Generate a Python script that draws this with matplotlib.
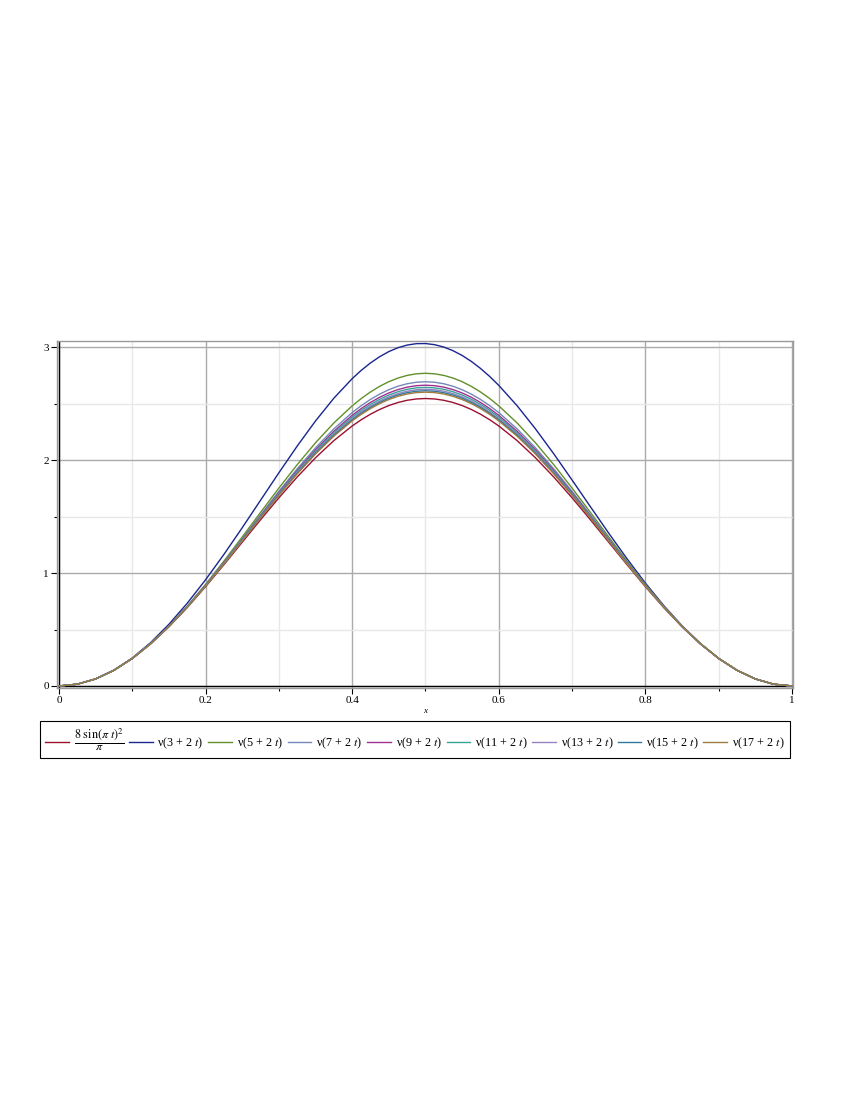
import matplotlib
matplotlib.use("Agg")
import matplotlib.pyplot as plt
from matplotlib.ticker import MultipleLocator

# sample points (x) and curve values (denser near the peak)
t = [0, 0.025, 0.05, 0.075, 0.1, 0.125, 0.15, 0.175, 0.2, 0.225, 0.25, 0.275, 0.3, 0.325, 0.35,
     0.375, 0.4, 0.4125, 0.425, 0.4375, 0.45, 0.4625, 0.475, 0.4875, 0.5, 0.5125, 0.525, 0.5375,
     0.55, 0.5625, 0.575, 0.5875, 0.6, 0.625, 0.65, 0.675, 0.7, 0.725, 0.75, 0.775, 0.8, 0.825,
     0.85, 0.875, 0.9, 0.925, 0.95, 0.975, 1]

y_base = [0, 0.0157, 0.0623, 0.1388, 0.2432, 0.3729, 0.5249, 0.6952, 0.8798, 1.0741, 1.2732,
          1.4724, 1.6667, 1.8513, 2.0216, 2.1736, 2.3033,
          2.3589, 2.4077, 2.4496, 2.4842, 2.5113, 2.5308, 2.5426, 2.5465, 2.5426, 2.5308, 2.5113,
          2.4842, 2.4496, 2.4077, 2.3589,
          2.3033, 2.1736, 2.0216, 1.8513, 1.6667, 1.4724, 1.2732, 1.0741, 0.8798, 0.6952, 0.5249,
          0.3729, 0.2432, 0.1388, 0.0623, 0.0157, 0]
y_nu3 = [0, 0.0157, 0.0627, 0.1405, 0.2480, 0.3840, 0.5465, 0.7331, 0.9407, 1.1653, 1.4019,
         1.6452, 1.8886, 2.1252, 2.3477, 2.5492, 2.7225,
         2.7967, 2.8617, 2.9171, 2.9622, 2.9966, 3.0200, 3.0324, 3.0335, 3.0234, 3.0023, 2.9703,
         2.9279, 2.8754, 2.8133, 2.7424,
         2.6630, 2.4826, 2.2782, 2.0567, 1.8244, 1.5880, 1.3536, 1.1266, 0.9117, 0.7128, 0.5335,
         0.3765, 0.2443, 0.1390, 0.0623, 0.0157, 0]
y_nu5 = [0, 0.0157, 0.0624, 0.1391, 0.2443, 0.3759, 0.5313, 0.7072, 0.9002, 1.1061, 1.3202,
         1.5376, 1.7528, 1.9604, 2.1546, 2.3301, 2.4817,
         2.5470, 2.6047, 2.6544, 2.6956, 2.7279, 2.7512, 2.7653, 2.7700, 2.7653, 2.7512, 2.7279,
         2.6956, 2.6544, 2.6047, 2.5470,
         2.4817, 2.3301, 2.1546, 1.9604, 1.7528, 1.5376, 1.3202, 1.1061, 0.9002, 0.7072, 0.5313,
         0.3759, 0.2443, 0.1391, 0.0624, 0.0157, 0]
y_nu7 = [0, 0.0157, 0.0623, 0.1390, 0.2439, 0.3749, 0.5291, 0.7032, 0.8934, 1.0954, 1.3045,
         1.5157, 1.7239, 1.9238, 2.1100, 2.2776, 2.4218,
         2.4839, 2.5386, 2.5856, 2.6246, 2.6552, 2.6773, 2.6906, 2.6950, 2.6906, 2.6773, 2.6552,
         2.6246, 2.5856, 2.5386, 2.4839,
         2.4218, 2.2776, 2.1100, 1.9238, 1.7239, 1.5157, 1.3045, 1.0954, 0.8934, 0.7032, 0.5291,
         0.3749, 0.2439, 0.1390, 0.0623, 0.0157, 0]
y_nu9 = [0, 0.0157, 0.0623, 0.1390, 0.2438, 0.3745, 0.5282, 0.7016, 0.8906, 1.0910, 1.2980,
         1.5068, 1.7122, 1.9089, 2.0918, 2.2562, 2.3975,
         2.4582, 2.5117, 2.5577, 2.5958, 2.6257, 2.6472, 2.6602, 2.6645, 2.6602, 2.6472, 2.6257,
         2.5958, 2.5577, 2.5117, 2.4582,
         2.3975, 2.2562, 2.0918, 1.9089, 1.7122, 1.5068, 1.2980, 1.0910, 0.8906, 0.7016, 0.5282,
         0.3745, 0.2438, 0.1390, 0.0623, 0.0157, 0]
y_nu11 = [0, 0.0157, 0.0623, 0.1389, 0.2437, 0.3742, 0.5277, 0.7005, 0.8888, 1.0882, 1.2939,
          1.5011, 1.7047, 1.8994, 2.0802, 2.2425, 2.3819,
          2.4418, 2.4945, 2.5398, 2.5773, 2.6068, 2.6280, 2.6407, 2.6450, 2.6407, 2.6280, 2.6068,
          2.5773, 2.5398, 2.4945, 2.4418,
          2.3819, 2.2425, 2.0802, 1.8994, 1.7047, 1.5011, 1.2939, 1.0882, 0.8888, 0.7005, 0.5277,
          0.3742, 0.2437, 0.1389, 0.0623, 0.0157, 0]
y_nu13 = [0, 0.0157, 0.0623, 0.1389, 0.2436, 0.3740, 0.5272, 0.6996, 0.8873, 1.0858, 1.2904,
          1.4962, 1.6981, 1.8911, 2.0701, 2.2306, 2.3684,
          2.4275, 2.4796, 2.5243, 2.5613, 2.5903, 2.6112, 2.6238, 2.6280, 2.6238, 2.6112, 2.5903,
          2.5613, 2.5243, 2.4796, 2.4275,
          2.3684, 2.2306, 2.0701, 1.8911, 1.6981, 1.4962, 1.2904, 1.0858, 0.8873, 0.6996, 0.5272,
          0.3740, 0.2436, 0.1389, 0.0623, 0.0157, 0]
y_nu15 = [0, 0.0157, 0.0623, 0.1388, 0.2435, 0.3738, 0.5268, 0.6989, 0.8861, 1.0839, 1.2876,
          1.4924, 1.6931, 1.8847, 2.0624, 2.2215, 2.3580,
          2.4166, 2.4681, 2.5123, 2.5490, 2.5777, 2.5984, 2.6108, 2.6150, 2.6108, 2.5984, 2.5777,
          2.5490, 2.5123, 2.4681, 2.4166,
          2.3580, 2.2215, 2.0624, 1.8847, 1.6931, 1.4924, 1.2876, 1.0839, 0.8861, 0.6989, 0.5268,
          0.3738, 0.2435, 0.1388, 0.0623, 0.0157, 0]
y_nu17 = [0, 0.0157, 0.0623, 0.1388, 0.2435, 0.3737, 0.5265, 0.6982, 0.8850, 1.0822, 1.2851,
          1.4889, 1.6885, 1.8789, 2.0553, 2.2131, 2.3484,
          2.4065, 2.4575, 2.5013, 2.5376, 2.5661, 2.5865, 2.5989, 2.6030, 2.5989, 2.5865, 2.5661,
          2.5376, 2.5013, 2.4575, 2.4065,
          2.3484, 2.2131, 2.0553, 1.8789, 1.6885, 1.4889, 1.2851, 1.0822, 0.8850, 0.6982, 0.5265,
          0.3737, 0.2435, 0.1388, 0.0623, 0.0157, 0]

series = [y_base, y_nu3, y_nu5, y_nu7, y_nu9, y_nu11, y_nu13, y_nu15, y_nu17]
labels = [r"$\dfrac{8\ \sin(\pi\ t)^2}{\pi}$",
          "ν(3 + 2 $t$)", "ν(5 + 2 $t$)", "ν(7 + 2 $t$)", "ν(9 + 2 $t$)",
          "ν(11 + 2 $t$)", "ν(13 + 2 $t$)", "ν(15 + 2 $t$)", "ν(17 + 2 $t$)"]
colors = ["#9c1030", "#1a2690", "#62902a", "#7588b8", "#a0308f", "#38a398", "#9882c0",
          "#2e7aa0", "#a07c3e"]

plt.rcParams["font.family"] = ["Liberation Serif", "DejaVu Serif"]
plt.rcParams["mathtext.fontset"] = "stix"

fig = plt.figure(figsize=(8.5, 11), dpi=100)
ax = fig.add_axes([57 / 850, 1 - 688 / 1100, 736 / 850, 347 / 1100])

for y, c, lab in zip(series, colors, labels):
    ax.plot(t, y, color=c, lw=1.0, label=lab)

ax.set_xlim(-0.0027, 1.0014); ax.set_ylim(-0.018, 3.056)
ax.xaxis.set_minor_locator(MultipleLocator(0.1))
ax.yaxis.set_major_locator(MultipleLocator(1)); ax.yaxis.set_minor_locator(MultipleLocator(0.5))
ax.set_xticks([0, 0.2, 0.4, 0.6, 0.8, 1]); ax.set_xticklabels(["0", "0.2", "0.4", "0.6", "0.8", "1"])
ax.grid(which="major", color="#ababab", lw=1.0)
ax.grid(which="minor", color="#e8e8e8", lw=1.0)
ax.set_axisbelow(True)
for s in ax.spines.values():
    s.set_color("#9a9a9a"); s.set_linewidth(1.0)
ax.axhline(0, color="black", lw=1.0, zorder=1.5); ax.axvline(0, color="black", lw=1.0, zorder=1.5)
ax.tick_params(which="major", length=4, width=0.8, color="black", labelsize=8, pad=2)
ax.tick_params(which="minor", length=2.5, width=0.8, color="black")
ax.set_xlabel("x", fontstyle="italic", fontsize=6.5, labelpad=1)

leg = fig.legend(loc="upper left", bbox_to_anchor=(40 / 850, 1 - 721 / 1100), ncol=9,
                 fontsize=8.7, handlelength=1.95, handletextpad=0.4, columnspacing=0.38,
                 borderaxespad=0, borderpad=0.45, fancybox=False, edgecolor="black", framealpha=1)
leg.get_frame().set_linewidth(0.8)

fig.savefig("out.png", dpi=100)
